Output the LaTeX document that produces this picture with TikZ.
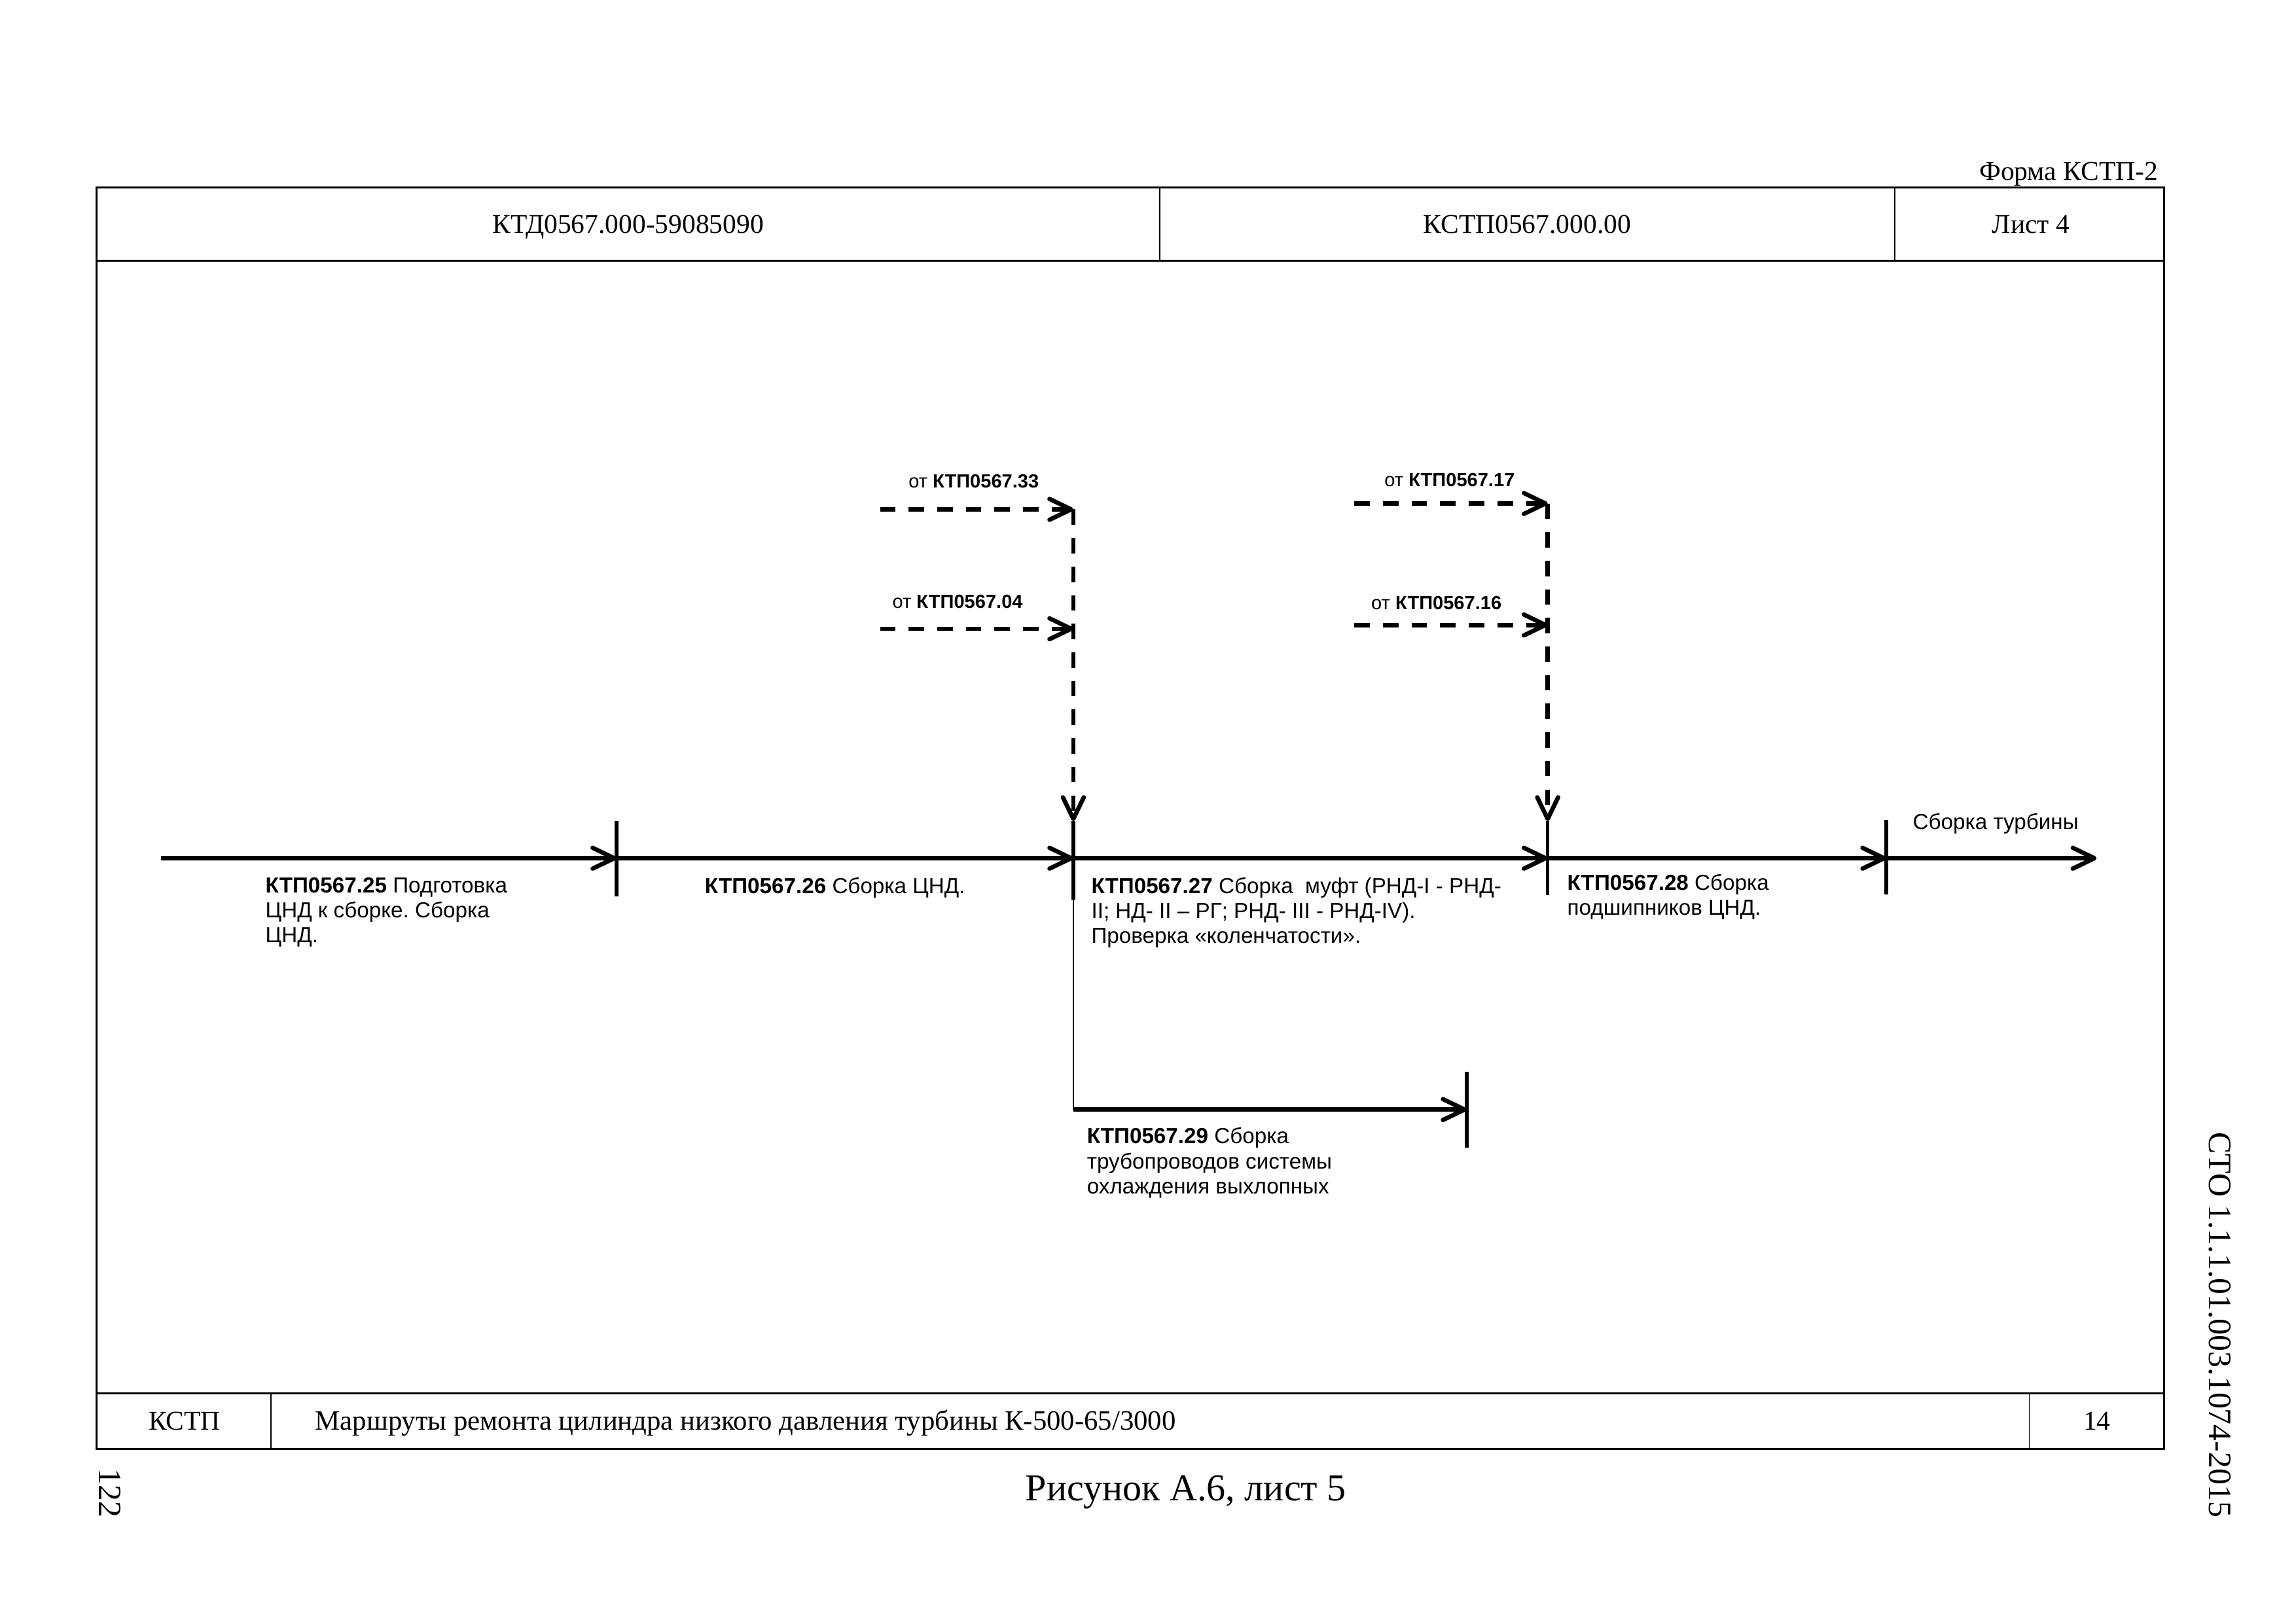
\documentclass[tikz,border=0pt]{standalone}
\usepackage{fontspec}
\setmainfont{Liberation Serif}
\setsansfont{Liberation Sans}
\usetikzlibrary{arrows.meta}
\frenchspacing
\tikzset{flow/.style={-{Straight Barb[length=2.8mm,width=2.7mm,round]},line width=1.6pt},
 feed/.style={flow,dash pattern=on 2mm off 1.7mm},
 tick/.style={line width=1.3pt},
 rule/.style={line width=0.8pt},
 divider/.style={line width=0.4pt},
 opbox/.style={font=\sffamily\fontsize{8}{9.2}\selectfont,anchor=north west,align=left,inner sep=0pt},
 srcbox/.style={font=\sffamily\fontsize{7}{8}\selectfont,inner sep=0pt},
 cell/.style={anchor=base,inner sep=0pt},
 every node/.style={font=\fontsize{10}{12}\selectfont}}

\begin{document}
\begin{tikzpicture}
\useasboundingbox (0,0) rectangle (29.7,21.005);
\draw[rule] (1.25,2.254) rectangle (27.995,18.58);
\draw[rule] (1.25,17.63)--(27.995,17.63);
\draw[rule] (1.25,2.974)--(27.995,2.974);
\draw[divider] (15.0,17.63)--(15.0,18.58);
\draw[divider] (24.51,17.63)--(24.51,18.58);
\draw[divider] (3.504,2.254)--(3.504,2.974);
\draw[divider] (26.25,2.254)--(26.25,2.974);
\node[anchor=base east,inner sep=0pt] (form) at (27.92,18.675) {Форма КСТП-2};
\node[cell] (hdoc) at (8.126,17.99) {КТД0567.000-59085090};
\node[cell] (hroute) at (19.755,17.99) {КСТП0567.000.00};
\node[cell] (hsheet) at (26.27,17.99) {Лист 4};
\node[cell] (fkind) at (2.387,2.50) {КСТП};
\node[cell,anchor=base west,font=\fontsize{10.3}{12}\selectfont] (ftitle) at (4.072,2.50) {Маршруты ремонта цилиндра низкого давления турбины К-500-65/3000};
\node[cell] (fpage) at (27.124,2.50) {14};
\node[font=\fontsize{14}{16}\selectfont] (caption) at (15.34,1.70) {Рисунок А.6, лист 5};
\node[font=\fontsize{12}{14}\selectfont,rotate=-90] (pageno) at (1.42,1.686) {122};
\node[font=\fontsize{12}{14}\selectfont,rotate=-90] (std) at (28.715,3.864) {СТО 1.1.1.01.003.1074-2015};

\coordinate (s0) at (2.083,9.9);
\coordinate (t1) at (7.974,9.9);
\coordinate (t2) at (13.884,9.9);
\coordinate (t3) at (20.02,9.9);
\coordinate (t4) at (24.40,9.9);
\coordinate (s5) at (27.12,9.9);
\coordinate (b0) at (13.884,6.648);
\coordinate (b1) at (18.973,6.648);
\coordinate (t2top) at (13.884,10.38);
\coordinate (t3top) at (20.02,10.38);
\coordinate (f33) at (11.384,14.414);
\coordinate (f04) at (11.384,12.869);
\coordinate (f17) at (17.52,14.49);
\coordinate (f16) at (17.52,12.918);
\coordinate (v33) at (13.884,14.414);
\coordinate (v04) at (13.884,12.869);
\coordinate (v17) at (20.02,14.49);
\coordinate (v16) at (20.02,12.918);

\draw[flow] (s0)--(t1);
\draw[flow] (t1)--(t2);
\draw[flow] (t2)--(t3);
\draw[flow] (t3)--(t4);
\draw[flow] (t4)--(s5);
\draw[tick] (7.974,10.38)--(7.974,9.41);
\draw[tick] (t2top)--(13.884,9.36);
\draw[tick] (t3top)--(20.02,9.42);
\draw[tick] (24.40,10.40)--(24.40,9.43);
\draw[divider] (t2)--(b0);
\draw[flow] (b0)--(b1);
\draw[tick] (18.973,7.141)--(18.973,6.156);

\draw[feed] (f33)--(v33);
\draw[feed] (f04)--(v04);
\draw[feed] (v33)--(t2top);
\draw[feed] (f17)--(v17);
\draw[feed] (f16)--(v16);
\draw[feed] (v17)--(t3top);

\node[srcbox] (src33) at (12.596,14.774) {от \textbf{КТП0567.33}};
\node[srcbox] (src04) at (12.387,13.221) {от \textbf{КТП0567.04}};
\node[srcbox] (src17) at (18.752,14.793) {от \textbf{КТП0567.17}};
\node[srcbox] (src16) at (18.581,13.202) {от \textbf{КТП0567.16}};

\node[opbox] (op25) at (3.428,9.66) {\textbf{КТП0567.25} Подготовка\\ЦНД к сборке. Сборка\\ЦНД.};
\node[opbox] (op26) at (9.111,9.66) {\textbf{КТП0567.26} Сборка ЦНД.};
\node[opbox] (op27) at (14.111,9.66) {\textbf{КТП0567.27} Сборка\ \ муфт (РНД-I - РНД-\\II; НД- II – РГ; РНД- III - РНД-IV).\\Проверка «коленчатости».};
\node[opbox] (op28) at (20.267,9.70) {\textbf{КТП0567.28} Сборка\\подшипников ЦНД.};
\node[opbox] (op29) at (14.054,6.42) {\textbf{КТП0567.29} Сборка\\трубопроводов системы\\охлаждения выхлопных};
\node[opbox] (turb) at (24.737,10.49) {Сборка турбины};
\end{tikzpicture}
\end{document}
